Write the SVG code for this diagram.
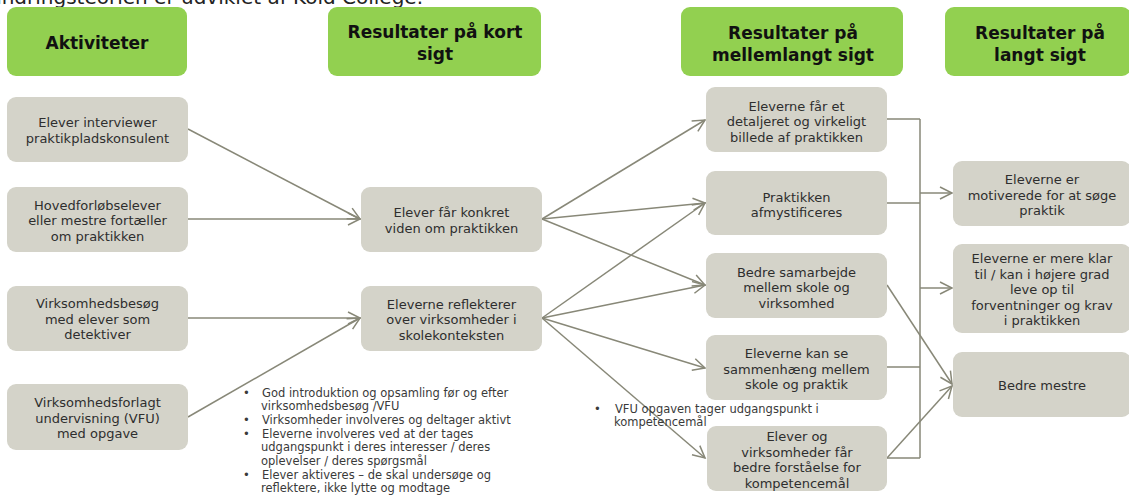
<svg xmlns="http://www.w3.org/2000/svg" width="1129" height="497" viewBox="0 0 1129 497">
<defs>
<style>
.hdr{fill:#92D050}
.box{fill:#D4D3C9}
.ht{font-family:"DejaVu Sans",Verdana,sans-serif;font-size:17px;font-weight:bold;fill:#111;text-anchor:middle}
.bt{font-family:"DejaVu Sans",Verdana,sans-serif;font-size:13px;fill:#2e2e2e;text-anchor:middle}
.nt{font-family:"DejaVu Sans",Verdana,sans-serif;font-size:11.5px;fill:#3a3a3a}
.cn{fill:none;stroke:#888878;stroke-width:1.5}
</style>
<marker id="arr" viewBox="-14 -8 16 16" refX="0" refY="0" markerWidth="16" markerHeight="16" markerUnits="userSpaceOnUse" orient="auto">
<path d="M-12,-6 L0,0 L-12,6" fill="none" stroke="#888878" stroke-width="1.5"/>
</marker>
</defs>
<rect width="1129" height="497" fill="#ffffff"/>
<text x="423" y="4" font-family="'DejaVu Sans',Verdana,sans-serif" font-size="20" fill="#222" text-anchor="end">Forandringsteorien er udviklet af Kold College.</text>

<g id="connectors">
<path class="cn" d="M188,129 L360,219" marker-end="url(#arr)"/>
<path class="cn" d="M188,219 L360,219" marker-end="url(#arr)"/>
<path class="cn" d="M188,318 L360,318" marker-end="url(#arr)"/>
<path class="cn" d="M188,417 L360,318" marker-end="url(#arr)"/>
<path class="cn" d="M542,219 L705,120" marker-end="url(#arr)"/>
<path class="cn" d="M542,219 L705,203" marker-end="url(#arr)"/>
<path class="cn" d="M542,219 L705,285" marker-end="url(#arr)"/>
<path class="cn" d="M542,318 L705,203" marker-end="url(#arr)"/>
<path class="cn" d="M542,318 L705,285" marker-end="url(#arr)"/>
<path class="cn" d="M542,318 L705,368" marker-end="url(#arr)"/>
<path class="cn" d="M542,318 L705,458" marker-end="url(#arr)"/>
<path class="cn" d="M887,119 H920 M887,203 H920 M887,367 H920 M887,458 H920 M920,119 V458"/>
<path class="cn" d="M920,193 H952" marker-end="url(#arr)"/>
<path class="cn" d="M920,288 H952" marker-end="url(#arr)"/>
<path class="cn" d="M887,285 L952,384" marker-end="url(#arr)"/>
<path class="cn" d="M887,458 L952,386" marker-end="url(#arr)"/>
</g>

<g id="h-aktiviteter"><rect class="hdr" x="7" y="7" width="180" height="69" rx="9"/><text class="ht" x="97" y="49">Aktiviteter</text></g>
<g id="h-kort"><rect class="hdr" x="328" y="7" width="213" height="69" rx="9"/><text class="ht" x="435" y="38">Resultater på kort</text><text class="ht" x="435" y="60">sigt</text></g>
<g id="h-mellem"><rect class="hdr" x="681" y="7" width="222" height="69" rx="9"/><text class="ht" x="793" y="39">Resultater på</text><text class="ht" x="793" y="61">mellemlangt sigt</text></g>
<g id="h-langt"><rect class="hdr" x="945" y="7" width="186" height="69" rx="9"/><text class="ht" x="1040" y="39">Resultater på</text><text class="ht" x="1040" y="61">langt sigt</text></g>

<g id="a1"><rect class="box" x="7" y="97" width="181" height="65" rx="9"/><text class="bt" x="97.5" y="127">Elever interviewer</text><text class="bt" x="97.5" y="142.5">praktikpladskonsulent</text></g>
<g id="a2"><rect class="box" x="7" y="187" width="181" height="65" rx="9"/><text class="bt" x="97.5" y="209.5">Hovedforløbselever</text><text class="bt" x="97.5" y="225">eller mestre fortæller</text><text class="bt" x="97.5" y="240.5">om praktikken</text></g>
<g id="a3"><rect class="box" x="7" y="286" width="181" height="65" rx="9"/><text class="bt" x="97.5" y="308">Virksomhedsbesøg</text><text class="bt" x="97.5" y="323.5">med elever som</text><text class="bt" x="97.5" y="339">detektiver</text></g>
<g id="a4"><rect class="box" x="7" y="384" width="181" height="66" rx="9"/><text class="bt" x="97.5" y="407">Virksomhedsforlagt</text><text class="bt" x="97.5" y="422.5">undervisning (VFU)</text><text class="bt" x="97.5" y="438">med opgave</text></g>

<g id="k1"><rect class="box" x="361" y="187" width="181" height="65" rx="9"/><text class="bt" x="451.5" y="217">Elever får konkret</text><text class="bt" x="451.5" y="232.5">viden om praktikken</text></g>
<g id="k2"><rect class="box" x="361" y="286" width="181" height="65" rx="9"/><text class="bt" x="451.5" y="308.5">Eleverne reflekterer</text><text class="bt" x="451.5" y="324">over virksomheder i</text><text class="bt" x="451.5" y="339.5">skolekonteksten</text></g>

<g id="m1"><rect class="box" x="706" y="87" width="181" height="65" rx="9"/><text class="bt" x="796.5" y="110.5">Eleverne får et</text><text class="bt" x="796.5" y="126">detaljeret og virkeligt</text><text class="bt" x="796.5" y="141.5">billede af praktikken</text></g>
<g id="m2"><rect class="box" x="706" y="171" width="181" height="64" rx="9"/><text class="bt" x="796.5" y="201.5">Praktikken</text><text class="bt" x="796.5" y="217">afmystificeres</text></g>
<g id="m3"><rect class="box" x="706" y="253" width="181" height="65" rx="9"/><text class="bt" x="796.5" y="276.5">Bedre samarbejde</text><text class="bt" x="796.5" y="292">mellem skole og</text><text class="bt" x="796.5" y="307.5">virksomhed</text></g>
<g id="m4"><rect class="box" x="706" y="335" width="181" height="65" rx="9"/><text class="bt" x="796.5" y="358">Eleverne kan se</text><text class="bt" x="796.5" y="373.5">sammenhæng mellem</text><text class="bt" x="796.5" y="389">skole og praktik</text></g>
<g id="m5"><rect class="box" x="707" y="426" width="180" height="65" rx="9"/><text class="bt" x="797" y="441">Elever og</text><text class="bt" x="797" y="456.5">virksomheder får</text><text class="bt" x="797" y="472">bedre forståelse for</text><text class="bt" x="797" y="487.5">kompetencemål</text></g>

<g id="l1"><rect class="box" x="953" y="161" width="178" height="65" rx="9"/><text class="bt" x="1042" y="184">Eleverne er</text><text class="bt" x="1042" y="199.5">motiverede for at søge</text><text class="bt" x="1042" y="215">praktik</text></g>
<g id="l2"><rect class="box" x="953" y="244" width="178" height="89" rx="9"/><text class="bt" x="1042" y="263">Eleverne er mere klar</text><text class="bt" x="1042" y="278.5">til / kan i højere grad</text><text class="bt" x="1042" y="294">leve op til</text><text class="bt" x="1042" y="309.5">forventninger og krav</text><text class="bt" x="1042" y="325">i praktikken</text></g>
<g id="l3"><rect class="box" x="953" y="352" width="178" height="65" rx="9"/><text class="bt" x="1042" y="389.5">Bedre mestre</text></g>

<g id="note-activities">
<text class="nt" x="243" y="397">•</text><text class="nt" x="262" y="397">God introduktion og opsamling før og efter</text>
<text class="nt" x="261" y="409.5">virksomhedsbesøg /VFU</text>
<text class="nt" x="243" y="424">•</text><text class="nt" x="262" y="424">Virksomheder involveres og deltager aktivt</text>
<text class="nt" x="243" y="437.5">•</text><text class="nt" x="262" y="437.5">Eleverne involveres ved at der tages</text>
<text class="nt" x="261" y="451">udgangspunkt i deres interesser / deres</text>
<text class="nt" x="261" y="465">oplevelser / deres spørgsmål</text>
<text class="nt" x="243" y="478.5">•</text><text class="nt" x="262" y="478.5">Elever aktiveres – de skal undersøge og</text>
<text class="nt" x="261" y="491.5">reflektere, ikke lytte og modtage</text>
</g>
<g id="note-vfu">
<text class="nt" x="594" y="413">•</text><text class="nt" x="615" y="413">VFU opgaven tager udgangspunkt i</text>
<text class="nt" x="614" y="425.5">kompetencemål</text>
</g>
</svg>
